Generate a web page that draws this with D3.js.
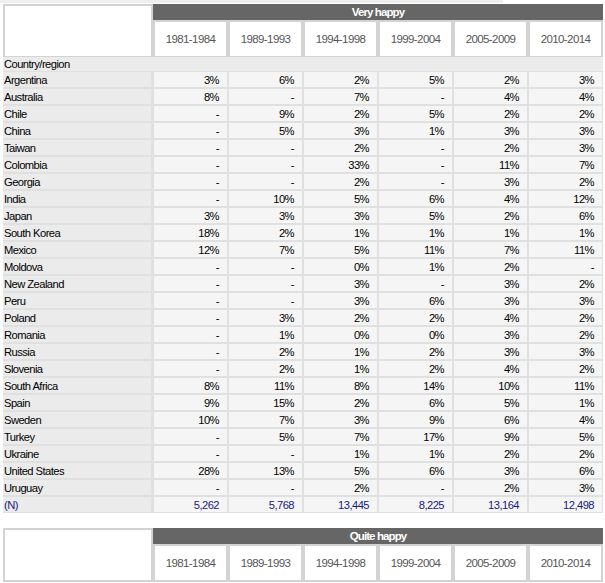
<!DOCTYPE html>
<html><head><meta charset="utf-8">
<script src="https://cdn.jsdelivr.net/npm/d3@7"></script>
<style>
html,body{margin:0;padding:0;background:#fff;}
svg{display:block;font-family:"Liberation Sans",Arial,Helvetica,sans-serif;}
</style></head>
<body><svg id="c" width="605" height="583"></svg>
<script>
const periods = ["1981-1984","1989-1993","1994-1998","1999-2004","2005-2009","2010-2014"];
const countries = ["Argentina","Australia","Chile","China","Taiwan","Colombia","Georgia","India","Japan","South Korea","Mexico","Moldova","New Zealand","Peru","Poland","Romania","Russia","Slovenia","South Africa","Spain","Sweden","Turkey","Ukraine","United States","Uruguay"];
const p1981 = [3,8,null,null,null,null,null,null,3,18,12,null,null,null,null,null,null,null,8,9,10,null,null,28,null];
const p1989 = [6,null,9,5,null,null,null,10,3,2,7,null,null,null,3,1,2,2,11,15,7,5,null,13,null];
const p1994 = [2,7,2,3,2,33,2,5,3,1,5,0,3,3,2,0,1,1,8,2,3,7,1,5,2];
const p1999 = [5,null,5,1,null,null,null,6,5,1,11,1,null,6,2,0,2,2,14,6,9,17,1,6,null];
const p2005 = [2,4,2,3,2,11,3,4,2,1,7,2,3,3,4,3,3,4,10,5,6,9,2,3,2];
const p2010 = [3,4,2,3,3,7,2,12,6,1,11,null,2,3,2,2,3,2,11,1,4,5,2,6,3];
const nValues = [5262,5768,13445,8225,13164,12498];
const tableTitles = ["Very happy","Quite happy"];
const rowHeader = "Country/region";
const nLabel = "(N)";

const series = [p1981,p1989,p1994,p1999,p2005,p2010];
const rowsLabels = countries.concat([nLabel]);

const svg = d3.select("#c");
const x = d3.scaleBand().domain(periods).range([153,603]);
const y = d3.scaleBand().domain(rowsLabels).range([71, 71 + 17*rowsLabels.length]);
const fmtN = d3.format(",");
const txt = (sel) => sel.attr("font-size",11.2).attr("letter-spacing",-0.55);

// top thin strip
svg.append("rect").attr("x",0).attr("y",0).attr("width",503).attr("height",3).attr("fill","#efefef");

function header(top, title){
  const g = svg.append("g");
  g.append("rect").attr("x",4).attr("y",top+1).attr("width",148).attr("height",52)
    .attr("fill","#fff").attr("stroke","#d3d3d3").attr("stroke-width",2);
  g.append("rect").attr("x",153).attr("y",top).attr("width",450).attr("height",16).attr("fill","#666");
  g.append("text").attr("x",378).attr("y",top+12).attr("text-anchor","middle")
    .attr("fill","#fff").attr("font-weight","bold").attr("font-size",11.5).attr("letter-spacing",-0.9).text(title);
  g.selectAll("rect.p").data(periods).join("rect").attr("class","p")
    .attr("x",d=>x(d)+1).attr("y",top+17).attr("width",x.bandwidth()-2).attr("height",36)
    .attr("fill","#fff").attr("stroke","#d3d3d3").attr("stroke-width",2);
  g.selectAll("text.p").data(periods).join("text").attr("class","p")
    .attr("x",d=>x(d)+x.bandwidth()/2).attr("y",top+39).attr("text-anchor","middle")
    .attr("fill","#555").attr("font-size",11.5).attr("letter-spacing",-0.6).text(d=>d);
}
header(4, tableTitles[0]);

// Country/region row
svg.append("rect").attr("x",3).attr("y",57).attr("width",600).attr("height",14).attr("fill","#ebebeb");
svg.append("text").attr("x",4).attr("y",68).attr("fill","#000").call(txt).text(rowHeader);

// body background (separators)
svg.append("rect").attr("x",3).attr("y",71).attr("width",600).attr("height",y.range()[1]-71).attr("fill","#e0e0e0");

// label cells
svg.selectAll("rect.lab").data(rowsLabels).join("rect").attr("class","lab")
  .attr("x",3).attr("y",d=>y(d)+1).attr("width",148).attr("height",y.bandwidth()-2).attr("fill","#ebebeb");
svg.selectAll("text.lab").data(rowsLabels).join("text").attr("class","lab")
  .attr("x",4).attr("y",d=>y(d)+12.5).attr("fill",d=>d===nLabel?"#1a1a80":"#000").call(txt).text(d=>d);

// data cells
const cells = [];
rowsLabels.forEach((r,i)=>periods.forEach((p,j)=>{
  if (r===nLabel) cells.push({r,p,t:fmtN(nValues[j]),n:true});
  else { const v = series[j][i]; cells.push({r,p,t: v===null?"-":v+"%",n:false}); }
}));
svg.selectAll("rect.cell").data(cells).join("rect").attr("class","cell")
  .attr("x",d=>x(d.p)+1).attr("y",d=>y(d.r)+1).attr("width",x.bandwidth()-2).attr("height",y.bandwidth()-2).attr("fill","#f5f5f5");
svg.selectAll("text.cell").data(cells).join("text").attr("class","cell")
  .attr("x",d=>x(d.p)+x.bandwidth()-9).attr("y",d=>y(d.r)+12.5).attr("text-anchor","end")
  .attr("fill",d=>d.n?"#1a1a80":"#000").call(txt).text(d=>d.t);

// second table header
header(528, tableTitles[1]);
</script></body></html>
